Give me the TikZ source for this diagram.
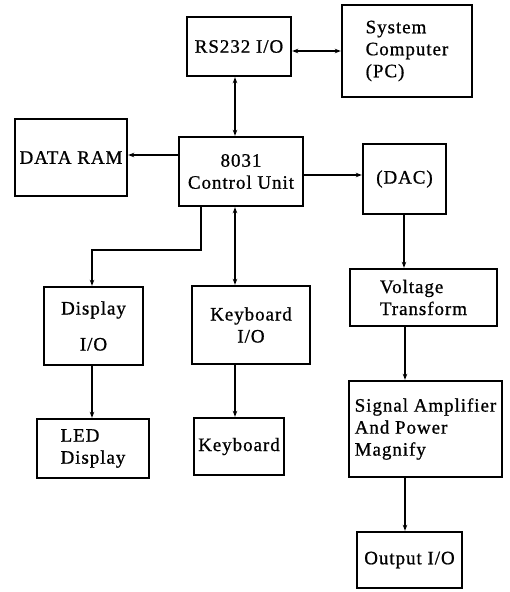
\documentclass[tikz,border=0pt]{standalone}
\usepackage{fontspec}
\setmainfont{Liberation Serif}[LetterSpace=5, FakeBold=0.8]
\usetikzlibrary{arrows.meta}

\begin{document}
\begin{tikzpicture}[x=1pt, y=-1pt, >={Stealth[length=6pt,width=4.5pt]},
		blk/.style={draw, line width=2.4pt, align=left, inner sep=0pt,
			font=\fontsize{19}{22}\selectfont},
		wire/.style={line width=1.4pt}]
	
	\useasboundingbox (0,0) rectangle (509,592);
	
	% -- Top row -------------------------------------------------
	\node[blk, minimum width=104pt, minimum height=59pt] (rs) at (239,46.5) {RS232 I/O};
	\node[blk, minimum width=130pt, minimum height=92pt] (pc) at (407,51) {System\\Computer\\(PC)};
	
	% -- Control row ---------------------------------------------
	\node[blk, minimum width=112pt, minimum height=77pt] (ram) at (71,157.5) {DATA RAM};
	\node[blk, align=center, minimum width=124pt, minimum height=69pt] (cu) at (241,171.5) {8031\\Control Unit};
	\node[blk, minimum width=83pt, minimum height=70pt] (dac) at (404.5,179) {(DAC)};
	
	% -- I/O row -------------------------------------------------
	\node[blk, align=center, minimum width=99pt, minimum height=78pt] (dio) at (93.5,326) {Display\\[14pt]I/O};
	\node[blk, align=center, minimum width=118pt, minimum height=78pt] (kio) at (251,325) {Keyboard\\I/O};
	\node[blk, minimum width=147pt, minimum height=57pt] (volt) at (423.5,297.5) {Voltage\\Transform};
	
	% -- Bottom row ----------------------------------------------
	\node[blk, minimum width=112pt, minimum height=59pt] (led) at (93,448.5) {LED\\Display};
	\node[blk, minimum width=90pt, minimum height=57pt] (kb) at (239,446.5) {Keyboard};
	\node[blk, minimum width=153pt, minimum height=96pt] (sig) at (425.5,429) {Signal Amplifier\\And Power\\Magnify};
	\node[blk, minimum width=105pt, minimum height=56pt] (out) at (409.5,560) {Output I/O};
	
	% -- Connectors ----------------------------------------------
	\draw[wire,<->] (rs.east |- pc.west) -- (pc.west);
	\draw[wire,<->] (rs.south -| 235,0) -- (cu.north -| 235,0);
	\draw[wire,->] (cu.west |- 0,155) -- (ram.east |- 0,155);
	\draw[wire,->] (cu.east |- 0,175) -- (dac.west |- 0,175);
	\draw[wire,->] (cu.south -| 201,0) -- (201,250) -| (dio.north -| 92,0);
	\draw[wire,<->] (cu.south -| 235,0) -- (kio.north -| 235,0);
	\draw[wire,->] (dio.south -| 92,0) -- (led.north -| 92,0);
	\draw[wire,->] (kio.south -| 235,0) -- (kb.north -| 235,0);
	\draw[wire,->] (dac.south -| 404,0) -- (volt.north -| 404,0);
	\draw[wire,->] (volt.south -| 405,0) -- (sig.north -| 405,0);
	\draw[wire,->] (sig.south -| 405,0) -- (out.north -| 405,0);
	
\end{tikzpicture}
\end{document}
